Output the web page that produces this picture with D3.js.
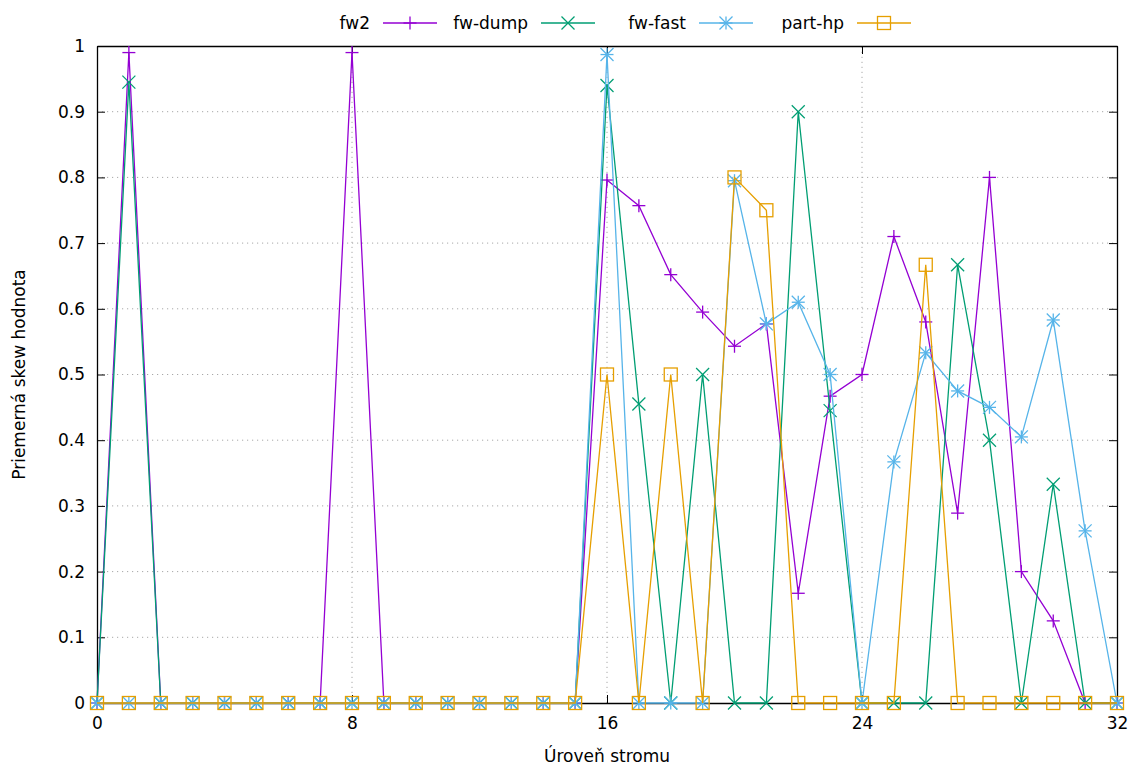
<!DOCTYPE html>
<html>
<head>
<meta charset="utf-8">
<script src="https://cdn.jsdelivr.net/npm/d3@7"></script>
<style>
  html, body { margin: 0; padding: 0; background: #fff; }
  svg { display: block; font-family: "DejaVu Sans", sans-serif; }
</style>
</head>
<body>
<svg id="chart" width="1133" height="767"></svg>
<script>
// Tree levels 0..32
const levels = d3.range(0, 33);

// Average skew value per tree level, one array per method
const fw2 = [0, 0.99, 0, 0, 0, 0, 0, 0, 0.99, 0, 0, 0, 0, 0, 0, 0,
  0.796, 0.757, 0.652, 0.595, 0.543, 0.577, 0.167, 0.467, 0.5,
  0.71, 0.58, 0.289, 0.8, 0.2, 0.125, 0, 0];
const fwDump = [0, 0.945, 0, 0, 0, 0, 0, 0, 0, 0, 0, 0, 0, 0, 0, 0,
  0.94, 0.455, 0, 0.5, 0, 0, 0.9, 0.445, 0,
  0, 0, 0.667, 0.4, 0, 0.333, 0, 0];
const fwFast = [0, 0, 0, 0, 0, 0, 0, 0, 0, 0, 0, 0, 0, 0, 0, 0,
  0.987, 0, 0, 0, 0.795, 0.577, 0.61, 0.5, 0,
  0.367, 0.533, 0.475, 0.45, 0.405, 0.583, 0.262, 0];
const partHp = [0, 0, 0, 0, 0, 0, 0, 0, 0, 0, 0, 0, 0, 0, 0, 0,
  0.5, 0, 0.5, 0, 0.8, 0.75, 0, 0, 0,
  0, 0.667, 0, 0, 0, 0, 0, 0];

const seriesNames = ["fw2", "fw-dump", "fw-fast", "part-hp"];
const seriesValues = [fw2, fwDump, fwFast, partHp];
const seriesColors = ["#9400d3", "#009e73", "#56b4e9", "#e69f00"];
const seriesMarkers = ["plus", "cross", "star", "square"];

const xTicks = [0, 8, 16, 24, 32];
const yTicks = [0, 0.1, 0.2, 0.3, 0.4, 0.5, 0.6, 0.7, 0.8, 0.9, 1];
const xTitle = "Úroveň stromu";
const yTitle = "Priemerná skew hodnota";

const svg = d3.select("#chart");
const margin = { left: 97, right: 16, top: 46, bottom: 64 };
const W = 1133, H = 767;
const x = d3.scaleLinear().domain([0, 32]).range([margin.left, W - margin.right]);
const y = d3.scaleLinear().domain([0, 1]).range([H - margin.bottom, margin.top]);
const fontSize = 17;

// Grid (dotted) at inner ticks
const grid = svg.append("g");
grid.selectAll("line.gy").data(yTicks.filter(v => v > 0 && v < 1)).join("line")
  .attr("x1", x(0)).attr("x2", x(32))
  .attr("y1", d => y(d)).attr("y2", d => y(d))
  .attr("stroke", "#a8a8a8").attr("stroke-width", 1)
  .attr("stroke-dasharray", "1.2,3.8");
grid.selectAll("line.gx").data(xTicks.filter(v => v > 0 && v < 32)).join("line")
  .attr("y1", y(0)).attr("y2", y(1))
  .attr("x1", d => x(d)).attr("x2", d => x(d))
  .attr("stroke", "#a8a8a8").attr("stroke-width", 1)
  .attr("stroke-dasharray", "1.2,3.8");

// Axes with inward ticks, mirrored on top/right
const tickLen = 8;
const axB = d3.axisBottom(x).tickValues(xTicks).tickSizeInner(-tickLen).tickSizeOuter(0).tickPadding(14);
const axT = d3.axisTop(x).tickValues(xTicks).tickSizeInner(-tickLen).tickSizeOuter(0).tickFormat("");
const axL = d3.axisLeft(y).tickValues(yTicks).tickSizeInner(-tickLen).tickSizeOuter(0).tickPadding(12)
  .tickFormat(d => d3.format("")(+d.toFixed(1)));
const axR = d3.axisRight(y).tickValues(yTicks).tickSizeInner(-tickLen).tickSizeOuter(0).tickFormat("");

function styleAxis(g) {
  g.selectAll("path").attr("stroke", "#000").attr("stroke-width", 1.3);
  g.selectAll("line").attr("stroke", "#000").attr("stroke-width", 1);
  g.selectAll("text").attr("font-size", fontSize).attr("fill", "#000")
    .attr("font-family", "DejaVu Sans, sans-serif");
}
svg.append("g").attr("transform", `translate(0,${y(0)})`).call(axB).call(styleAxis);
svg.append("g").attr("transform", `translate(0,${y(1)})`).call(axT).call(styleAxis);
svg.append("g").attr("transform", `translate(${x(0)},0)`).call(axL).call(styleAxis);
svg.append("g").attr("transform", `translate(${x(32)},0)`).call(axR).call(styleAxis);

// Axis titles
svg.append("text").attr("x", x(16)).attr("y", 762)
  .attr("text-anchor", "middle").attr("font-size", fontSize).text(xTitle);
svg.append("text")
  .attr("transform", `translate(25,${(y(0) + y(1)) / 2}) rotate(-90)`)
  .attr("text-anchor", "middle").attr("font-size", fontSize).text(yTitle);

// Point markers
const ms = 6.5;
function drawMarker(g, type, cx, cy, color) {
  const m = g.append("g").attr("transform", `translate(${cx},${cy})`)
    .attr("stroke", color).attr("stroke-width", 1.3).attr("fill", "none");
  if (type === "plus" || type === "star") {
    m.append("line").attr("x1", -ms).attr("x2", ms).attr("y1", 0).attr("y2", 0);
    m.append("line").attr("x1", 0).attr("x2", 0).attr("y1", -ms).attr("y2", ms);
  }
  if (type === "cross" || type === "star") {
    m.append("line").attr("x1", -ms).attr("x2", ms).attr("y1", -ms).attr("y2", ms);
    m.append("line").attr("x1", -ms).attr("x2", ms).attr("y1", ms).attr("y2", -ms);
  }
  if (type === "square") {
    m.append("rect").attr("x", -ms).attr("y", -ms).attr("width", 2 * ms).attr("height", 2 * ms);
  }
}

const line = d3.line().x((d, i) => x(levels[i])).y(d => y(d));
const plot = svg.append("g");
seriesValues.forEach((vals, s) => {
  const g = plot.append("g");
  g.append("path").datum(vals).attr("d", line)
    .attr("fill", "none").attr("stroke", seriesColors[s]).attr("stroke-width", 1.3);
  vals.forEach((v, i) => drawMarker(g, seriesMarkers[s], x(levels[i]), y(v), seriesColors[s]));
});

// Legend across the top
const legend = svg.append("g");
const legendY = 23;
seriesNames.forEach((name, s) => {
  const textEnd = 370 + s * 158;
  legend.append("text").attr("x", textEnd).attr("y", legendY).attr("dy", "0.35em")
    .attr("text-anchor", "end").attr("font-size", fontSize).text(name);
  legend.append("line").attr("x1", textEnd + 13).attr("x2", textEnd + 67)
    .attr("y1", legendY).attr("y2", legendY)
    .attr("stroke", seriesColors[s]).attr("stroke-width", 1.3);
  drawMarker(legend, seriesMarkers[s], textEnd + 40, legendY, seriesColors[s]);
});
</script>
</body>
</html>
